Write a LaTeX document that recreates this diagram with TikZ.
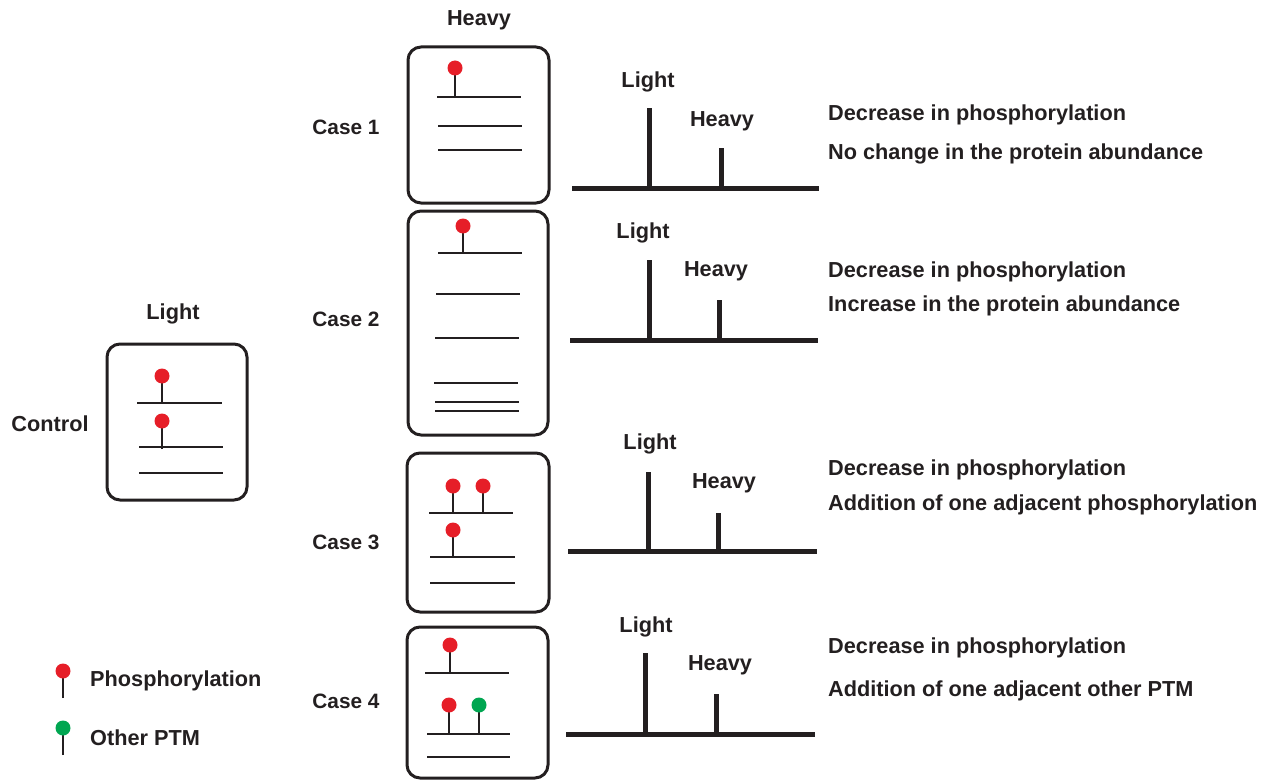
\documentclass[tikz,border=0pt]{standalone}
\usepackage{fontspec}
\setmainfont{Liberation Sans}
\definecolor{pred}{RGB}{230,30,40}
\definecolor{pgreen}{RGB}{0,166,81}
\definecolor{ink}{RGB}{35,31,32}
\newcommand\mypin[4]{%
  \draw[stem] (#1,#2) -- (#1,#3);
  \fill[#4] (#1,#3) circle (7.5);}
\begin{document}
\begin{tikzpicture}[x=1pt,y=-1pt,
  lab/.style={font=\fontsize{21.7}{24}\selectfont\bfseries, text=ink, inner sep=0pt},
  caselab/.style={lab, font=\fontsize{20.8}{24}\selectfont\bfseries},
  box/.style={draw=ink, line width=3pt, rounded corners=13pt},
  pline/.style={draw=ink, line width=2pt},
  stem/.style={draw=ink, line width=2pt},
  peak/.style={draw=ink, line width=5pt}]
\useasboundingbox (0,0) rectangle (1277,781);
% ---------- Control ----------
\draw[box] (107,344) rectangle (247,500);
\node[lab] (lightC) at (173,314) {Light};
\node[lab] (ctrl) at (50,424) {Control};
\draw[pline] (137,403) -- (222,403);
\draw[pline] (139,447) -- (223,447);
\draw[pline] (139,473) -- (223,473);
\mypin{162}{403}{376}{pred}
\mypin{162}{449}{421}{pred}
% ---------- Heavy header ----------
\node[lab] (heavyH) at (479,20) {Heavy};
% ---------- Case 1 ----------
\node[caselab] (case1) at (346,127) {Case 1};
\draw[box] (408,47) rectangle (549,203);
\draw[pline] (437,97) -- (521,97);
\draw[pline] (438,126) -- (522,126);
\draw[pline] (438,150) -- (522,150);
\mypin{455}{97}{68}{pred}
\draw[peak] (572,188) -- (819,188);
\draw[peak] (649,188) -- (649,108);
\draw[peak] (721,188) -- (721,148);
\node[lab] (l1) at (648,82) {Light};
\node[lab] (h1) at (722,121) {Heavy};
\node[lab,anchor=base west] (t1a) at (828,121) {Decrease in phosphorylation};
\node[lab,anchor=base west] (t1b) at (828,160) {No change in the protein abundance};
% ---------- Case 2 ----------
\node[caselab] (case2) at (346,319) {Case 2};
\draw[box] (408,211) rectangle (548,435);
\draw[pline] (438,253) -- (522,253);
\draw[pline] (436,294) -- (520,294);
\draw[pline] (435,338) -- (519,338);
\draw[pline] (434,383) -- (518,383);
\draw[pline] (435,402) -- (519,402);
\draw[pline] (435,411) -- (519,411);
\mypin{463}{253}{226}{pred}
\draw[peak] (570,340) -- (818,340);
\draw[peak] (649,340) -- (649,260);
\draw[peak] (719,340) -- (719,300);
\node[lab] (l2) at (643,233) {Light};
\node[lab] (h2) at (716,271) {Heavy};
\node[lab,anchor=base west] (t2a) at (828,277) {Decrease in phosphorylation};
\node[lab,anchor=base west] (t2b) at (828,311) {Increase in the protein abundance};
% ---------- Case 3 ----------
\node[caselab] (case3) at (346,542) {Case 3};
\draw[box] (407,453) rectangle (549,612);
\draw[pline] (429,513) -- (513,513);
\draw[pline] (430,557) -- (515,557);
\draw[pline] (430,583) -- (515,583);
\mypin{453}{513}{486}{pred}
\mypin{483}{513}{486}{pred}
\mypin{453}{557}{530}{pred}
\draw[peak] (568,551) -- (817,551);
\draw[peak] (648,551) -- (648,472);
\draw[peak] (718,551) -- (718,513);
\node[lab] (l3) at (650,444) {Light};
\node[lab] (h3) at (724,483) {Heavy};
\node[lab,anchor=base west] (t3a) at (828,475) {Decrease in phosphorylation};
\node[lab,anchor=base west] (t3b) at (828,510) {Addition of one adjacent phosphorylation};
% ---------- Case 4 ----------
\node[caselab] (case4) at (346,701) {Case 4};
\draw[box] (407,627) rectangle (548,778);
\draw[pline] (425,673) -- (509,673);
\draw[pline] (427,734) -- (510,734);
\draw[pline] (427,757) -- (510,757);
\mypin{450}{673}{645}{pred}
\mypin{449}{734}{705}{pred}
\mypin{479}{734}{705}{pgreen}
\draw[peak] (566,734) -- (815,734);
\draw[peak] (645,734) -- (645,653);
\draw[peak] (716,734) -- (716,694);
\node[lab] (l4) at (646,627) {Light};
\node[lab] (h4) at (720,665) {Heavy};
\node[lab,anchor=base west] (t4a) at (828,653) {Decrease in phosphorylation};
\node[lab,anchor=base west] (t4b) at (828,696) {Addition of one adjacent other PTM};
% ---------- Legend ----------
\mypin{63}{698}{671}{pred}
\mypin{63}{755}{728}{pgreen}
\node[lab,anchor=west] (lgP) at (90,681) {Phosphorylation};
\node[lab,anchor=west] (lgO) at (90,738) {Other PTM};
\end{tikzpicture}
\end{document}
